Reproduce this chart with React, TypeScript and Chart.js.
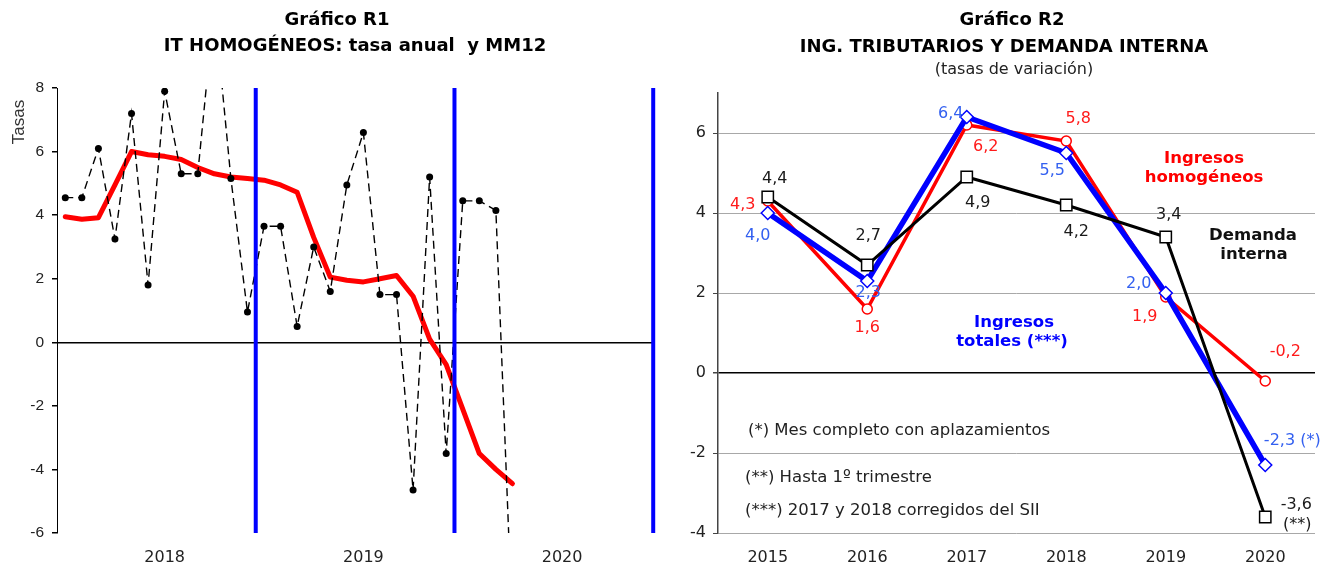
import React, { useEffect, useRef } from 'react';
import { Chart, registerables } from 'chart.js';

Chart.register(...registerables);

// ---------- Gráfico R1 data ----------
const monthNames = ['ene', 'feb', 'mar', 'abr', 'may', 'jun', 'jul', 'ago', 'sep', 'oct', 'nov', 'dic'];
const yearsR1 = ['2018', '2019', '2020'];
const monthCategories = yearsR1.flatMap((y) => monthNames.map((m) => `${m}-${y.slice(2)}`));
const tasaAnual = [
  4.55, 4.55, 6.1, 3.25, 7.2, 1.8, 7.9, 5.3, 5.3, 10.6, 5.15, 0.95,
  3.65, 3.65, 0.5, 3.0, 1.6, 4.95, 6.6, 1.5, 1.5, -4.65, 5.2, -3.5,
  4.45, 4.45, 4.15, -9.0,
];
const mediaMovil12 = [
  3.95, 3.87, 3.92, 4.95, 6.0, 5.9, 5.85, 5.75, 5.5, 5.3, 5.2, 5.15,
  5.1, 4.95, 4.72, 3.3, 2.05, 1.95, 1.9, 2.0, 2.1, 1.45, 0.1, -0.7,
  -2.1, -3.5, -4.0, -4.45,
];

// ---------- Gráfico R2 data ----------
const yearsR2 = ['2015', '2016', '2017', '2018', '2019', '2020'];
const ingresosHomogeneos = [4.3, 1.6, 6.2, 5.8, 1.9, -0.2];
const ingresosTotales = [4.0, 2.3, 6.4, 5.5, 2.0, -2.3];
const demandaInterna = [4.4, 2.7, 4.9, 4.2, 3.4, -3.6];
const suffixTotales = ['', '', '', '', '', ' (*)'];
const extraDemanda = ['', '', '', '', '', '(**)'];

// label offsets (px) relative to each point
const offHomogeneos = [[-25, 4], [0, 19], [19, 22], [12, -22], [-21, 20], [20, -29]];
const offTotales = [[-10, 23], [1, 12], [-16, -3], [-14, 18], [-27, -9], [27, -24]];
const offDemanda = [[7, -18], [1, -29], [11, 26], [10, 27], [3, -22], [31, -12]];
const offDemandaExtra = [32, 8];

const FONT = '"DejaVu Sans"';
const fmt = (v: number) => v.toFixed(1).replace('.', ',');

type TextItem = {
  text: string;
  x: number;
  y: number;
  font: string;
  color: string;
  align?: CanvasTextAlign;
  rotate?: number;
};

function textPlugin(id: string, items: TextItem[]) {
  return {
    id,
    afterDraw(chart: any) {
      const ctx = chart.ctx as CanvasRenderingContext2D;
      items.forEach((it) => {
        ctx.save();
        ctx.font = it.font;
        ctx.fillStyle = it.color;
        ctx.textAlign = it.align || 'center';
        ctx.textBaseline = 'middle';
        ctx.translate(it.x, it.y);
        if (it.rotate) ctx.rotate(it.rotate);
        ctx.fillText(it.text, 0, 0);
        ctx.restore();
      });
    },
  };
}

const yearBoundaryPlugin = {
  id: 'yearBoundaries',
  afterDatasetsDraw(chart: any) {
    const ctx = chart.ctx as CanvasRenderingContext2D;
    const xs = chart.scales.x;
    const { top, bottom } = chart.chartArea;
    ctx.save();
    ctx.strokeStyle = '#0000FF';
    ctx.lineWidth = 4;
    yearsR1.forEach((_, k) => {
      const x = xs.getPixelForValue(12 * (k + 1) - 0.5);
      ctx.beginPath();
      ctx.moveTo(x, top);
      ctx.lineTo(x, bottom);
      ctx.stroke();
    });
    ctx.restore();
  },
};

const dataLabelPlugin = {
  id: 'dataLabels',
  afterDatasetsDraw(chart: any) {
    const ctx = chart.ctx as CanvasRenderingContext2D;
    const specs = [
      { values: ingresosHomogeneos, off: offHomogeneos, color: '#FF1A1A', suffix: null as any },
      { values: ingresosTotales, off: offTotales, color: '#3360F0', suffix: suffixTotales },
      { values: demandaInterna, off: offDemanda, color: '#1a1a1a', suffix: null as any },
    ];
    ctx.save();
    ctx.font = `16px ${FONT}`;
    ctx.textAlign = 'center';
    ctx.textBaseline = 'middle';
    specs.forEach((s, di) => {
      const meta = chart.getDatasetMeta(di);
      meta.data.forEach((pt: any, i: number) => {
        ctx.fillStyle = s.color;
        const txt = fmt(s.values[i]) + (s.suffix ? s.suffix[i] : '');
        ctx.fillText(txt, pt.x + s.off[i][0], pt.y + s.off[i][1]);
        if (di === 2 && extraDemanda[i]) {
          ctx.fillText(extraDemanda[i], pt.x + offDemandaExtra[0], pt.y + offDemandaExtra[1]);
        }
      });
    });
    ctx.restore();
  },
};

export default function App() {
  const leftRef = useRef<HTMLCanvasElement>(null);
  const rightRef = useRef<HTMLCanvasElement>(null);

  useEffect(() => {
    const leftTexts: TextItem[] = [
      { text: 'Gráfico R1', x: 337, y: 20, font: `bold 18px ${FONT}`, color: '#000' },
      { text: 'IT HOMOGÉNEOS: tasa anual  y MM12', x: 355, y: 46, font: `bold 18px ${FONT}`, color: '#000' },
      { text: 'Tasas', x: 19, y: 122, font: '17px "Liberation Sans"', color: '#333', rotate: -Math.PI / 2 },
    ];

    const left = new Chart(leftRef.current as HTMLCanvasElement, {
      type: 'line',
      data: {
        labels: monthCategories,
        datasets: [
          {
            label: 'Tasa anual',
            data: tasaAnual,
            borderColor: '#000',
            borderWidth: 1.4,
            borderDash: [8, 5],
            pointRadius: 3.5,
            pointBackgroundColor: '#000',
            pointBorderWidth: 0,
            tension: 0,
            order: 1,
          },
          {
            label: 'MM12',
            data: mediaMovil12,
            borderColor: '#FF0000',
            borderWidth: 5,
            pointRadius: 0,
            borderJoinStyle: 'round',
            borderCapStyle: 'round',
            tension: 0,
            order: 2,
          },
        ],
      },
      options: {
        animation: false,
        responsive: false,
        maintainAspectRatio: false,
        layout: { padding: { left: 0, right: 5, top: 88, bottom: 0 } },
        plugins: { legend: { display: false }, tooltip: { enabled: false }, title: { display: false } },
        scales: {
          x: {
            type: 'category',
            offset: true,
            grid: { display: false, drawTicks: false },
            border: { display: false },
            ticks: {
              autoSkip: false,
              maxRotation: 0,
              minRotation: 0,
              padding: 15,
              color: '#222',
              font: { family: 'DejaVu Sans', size: 16 },
              callback: (_v: any, i: number) => (i % 12 === 6 ? yearsR1[Math.floor(i / 12)] : ''),
            },
            afterFit: (s: any) => {
              s.height = 32;
            },
          },
          y: {
            min: -6,
            max: 8,
            ticks: {
              stepSize: 2,
              color: '#222',
              padding: 8,
              font: { family: 'Liberation Sans', size: 15.5 },
            },
            grid: {
              color: (c: any) => (c.tick && c.tick.value === 0 ? '#000' : 'rgba(0,0,0,0)'),
              lineWidth: 1.5,
              tickColor: '#000',
              tickLength: 5,
              drawTicks: true,
            },
            border: { display: true, color: '#000', width: 1 },
            afterFit: (s: any) => {
              s.width = 57;
            },
          },
        },
      } as any,
      plugins: [yearBoundaryPlugin, textPlugin('leftTexts', leftTexts)],
    });

    const rightTexts: TextItem[] = [
      { text: 'Gráfico R2', x: 352, y: 20, font: `bold 18px ${FONT}`, color: '#000' },
      { text: 'ING. TRIBUTARIOS Y DEMANDA INTERNA', x: 344, y: 47, font: `bold 18px ${FONT}`, color: '#000' },
      { text: '(tasas de variación)', x: 354, y: 70, font: `16px ${FONT}`, color: '#222' },
      { text: 'Ingresos', x: 544, y: 159, font: `bold 16.5px ${FONT}`, color: '#FF0000' },
      { text: 'homogéneos', x: 544, y: 178, font: `bold 16.5px ${FONT}`, color: '#FF0000' },
      { text: 'Demanda', x: 593, y: 236, font: `bold 16.5px ${FONT}`, color: '#111' },
      { text: 'interna', x: 594, y: 255, font: `bold 16.5px ${FONT}`, color: '#111' },
      { text: 'Ingresos', x: 354, y: 323, font: `bold 16.5px ${FONT}`, color: '#0000FF' },
      { text: 'totales (***)', x: 352, y: 342, font: `bold 16.5px ${FONT}`, color: '#0000FF' },
      { text: '(*) Mes completo con aplazamientos', x: 88, y: 431, font: `16.5px ${FONT}`, color: '#222', align: 'left' },
      { text: '(**) Hasta 1º trimestre', x: 85, y: 478, font: `16.5px ${FONT}`, color: '#222', align: 'left' },
      { text: '(***) 2017 y 2018 corregidos del SII', x: 85, y: 511, font: `16.5px ${FONT}`, color: '#222', align: 'left' },
    ];

    const right = new Chart(rightRef.current as HTMLCanvasElement, {
      type: 'line',
      data: {
        labels: yearsR2,
        datasets: [
          {
            label: 'Ingresos homogéneos',
            data: ingresosHomogeneos,
            borderColor: '#FF0000',
            borderWidth: 3.5,
            pointStyle: 'circle',
            pointRadius: 5,
            pointBackgroundColor: '#fff',
            pointBorderColor: '#FF0000',
            pointBorderWidth: 1.5,
            tension: 0,
            order: 3,
          },
          {
            label: 'Ingresos totales',
            data: ingresosTotales,
            borderColor: '#0000FF',
            borderWidth: 5.5,
            pointStyle: 'rectRot',
            pointRadius: 6.5,
            pointBackgroundColor: '#fff',
            pointBorderColor: '#0000FF',
            pointBorderWidth: 1.5,
            tension: 0,
            order: 2,
          },
          {
            label: 'Demanda interna',
            data: demandaInterna,
            borderColor: '#000',
            borderWidth: 3,
            pointStyle: 'rect',
            pointRadius: 8,
            pointBackgroundColor: '#fff',
            pointBorderColor: '#000',
            pointBorderWidth: 1.5,
            tension: 0,
            order: 1,
          },
        ],
      },
      options: {
        animation: false,
        responsive: false,
        maintainAspectRatio: false,
        layout: { padding: { left: 0, right: 10, top: 93, bottom: 0 } },
        plugins: { legend: { display: false }, tooltip: { enabled: false }, title: { display: false } },
        scales: {
          x: {
            type: 'category',
            offset: true,
            grid: { display: false, drawTicks: false },
            border: { display: false },
            ticks: {
              autoSkip: false,
              maxRotation: 0,
              minRotation: 0,
              padding: 15,
              color: '#222',
              font: { family: 'DejaVu Sans', size: 16 },
            },
            afterFit: (s: any) => {
              s.height = 32;
            },
          },
          y: {
            min: -4,
            max: 7,
            ticks: {
              stepSize: 2,
              includeBounds: false,
              color: '#222',
              padding: 7,
              font: { family: 'DejaVu Sans', size: 16 },
            },
            grid: {
              color: (c: any) => (c.tick && c.tick.value === 0 ? '#000' : '#a8a8a8'),
              lineWidth: (c: any) => (c.tick && c.tick.value === 0 ? 1.5 : 1),
              tickColor: '#444',
              tickLength: 5,
              drawTicks: true,
            },
            border: { display: true, color: '#444', width: 1.5 },
            afterFit: (s: any) => {
              s.width = 58;
            },
          },
        },
      } as any,
      plugins: [dataLabelPlugin, textPlugin('rightTexts', rightTexts)],
    });

    return () => {
      left.destroy();
      right.destroy();
    };
  }, []);

  return (
    <div style={{ position: 'fixed', left: 0, top: 0, width: 1325, height: 565, background: '#fff' }}>
      <canvas
        ref={leftRef}
        width={660}
        height={565}
        style={{ position: 'absolute', left: 0, top: 0, width: 660, height: 565 }}
      />
      <canvas
        ref={rightRef}
        width={665}
        height={565}
        style={{ position: 'absolute', left: 660, top: 0, width: 665, height: 565 }}
      />
    </div>
  );
}
